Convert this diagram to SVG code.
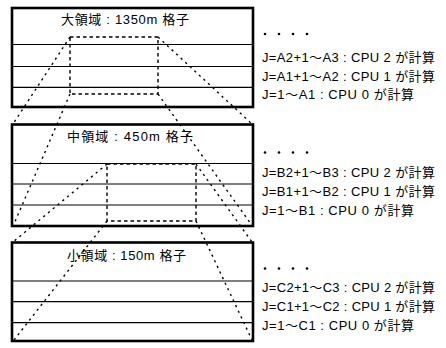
<svg xmlns="http://www.w3.org/2000/svg" width="446" height="348" viewBox="0 0 446 348">
<style>
.frame{fill:none;stroke:#000;stroke-width:2.6}
.row{stroke:#000;stroke-width:1.2}
.rect{fill:none;stroke:#000;stroke-width:1.4;stroke-dasharray:3.5 3}
.conn{fill:none;stroke:#000;stroke-width:1.4;stroke-dasharray:2.2 4}
.t{font-family:"Liberation Sans","Noto Sans CJK JP",sans-serif;font-size:13px;fill:#000}
.dot{fill:#000}
</style>
<rect width="446" height="348" fill="#fff"/>
<g id="large">
  <rect class="frame" x="12" y="8" width="241" height="99"/>
  <line class="row" x1="12" y1="44.5" x2="253" y2="44.5"/>
  <line class="row" x1="12" y1="66.5" x2="253" y2="66.5"/>
  <line class="row" x1="12" y1="87.3" x2="253" y2="87.3"/>
  <rect class="rect" x="70" y="37" width="88" height="57"/>
  <text class="t" x="61" y="24" textLength="128" lengthAdjust="spacing">大領域 : 1350m 格子</text>
  <circle class="dot" cx="265" cy="34" r="1.3"/><circle class="dot" cx="279" cy="34" r="1.3"/><circle class="dot" cx="293" cy="34" r="1.3"/><circle class="dot" cx="307" cy="34" r="1.3"/>
  <text class="t" x="262" y="61.5" textLength="173" lengthAdjust="spacing">J=A2+1〜A3 : CPU 2 が計算</text>
  <text class="t" x="262" y="80.5" textLength="173" lengthAdjust="spacing">J=A1+1〜A2 : CPU 1 が計算</text>
  <text class="t" x="262" y="99" textLength="152" lengthAdjust="spacing">J=1〜A1 : CPU 0 が計算</text>
</g>
<g id="medium">
  <rect class="frame" x="12" y="124.5" width="241" height="101.5"/>
  <line class="row" x1="12" y1="163.5" x2="253" y2="163.5"/>
  <line class="row" x1="12" y1="184" x2="253" y2="184"/>
  <line class="row" x1="12" y1="205" x2="253" y2="205"/>
  <rect class="rect" x="107" y="164" width="89" height="57"/>
  <text class="t" x="67" y="141" textLength="126" lengthAdjust="spacing">中領域 : 450m 格子</text>
  <circle class="dot" cx="265" cy="152.5" r="1.3"/><circle class="dot" cx="279" cy="152.5" r="1.3"/><circle class="dot" cx="293" cy="152.5" r="1.3"/><circle class="dot" cx="307" cy="152.5" r="1.3"/>
  <text class="t" x="262" y="177" textLength="173" lengthAdjust="spacing">J=B2+1〜B3 : CPU 2 が計算</text>
  <text class="t" x="262" y="196" textLength="173" lengthAdjust="spacing">J=B1+1〜B2 : CPU 1 が計算</text>
  <text class="t" x="262" y="214.5" textLength="152" lengthAdjust="spacing">J=1〜B1 : CPU 0 が計算</text>
</g>
<g id="small">
  <rect class="frame" x="12" y="242.5" width="241" height="98.5"/>
  <line class="row" x1="12" y1="281" x2="253" y2="281"/>
  <line class="row" x1="12" y1="301.7" x2="253" y2="301.7"/>
  <line class="row" x1="12" y1="322.7" x2="253" y2="322.7"/>
  <text class="t" x="67" y="259.5" textLength="119" lengthAdjust="spacing">小領域 : 150m 格子</text>
  <circle class="dot" cx="265" cy="268.5" r="1.3"/><circle class="dot" cx="279" cy="268.5" r="1.3"/><circle class="dot" cx="293" cy="268.5" r="1.3"/><circle class="dot" cx="307" cy="268.5" r="1.3"/>
  <text class="t" x="262" y="292" textLength="173" lengthAdjust="spacing">J=C2+1〜C3 : CPU 2 が計算</text>
  <text class="t" x="262" y="311" textLength="173" lengthAdjust="spacing">J=C1+1〜C2 : CPU 1 が計算</text>
  <text class="t" x="262" y="329.5" textLength="152" lengthAdjust="spacing">J=1〜C1 : CPU 0 が計算</text>
</g>
<g id="connectors">
  <line class="conn" x1="70" y1="37" x2="13" y2="124"/>
  <line class="conn" x1="70" y1="94" x2="14" y2="224"/>
  <line class="conn" x1="158" y1="37" x2="252" y2="124"/>
  <line class="conn" x1="158" y1="94" x2="251" y2="224"/>
  <line class="conn" x1="107" y1="164" x2="13" y2="242"/>
  <line class="conn" x1="107" y1="221" x2="14" y2="340"/>
  <line class="conn" x1="196" y1="164" x2="252" y2="242"/>
  <line class="conn" x1="196" y1="221" x2="252" y2="340"/>
</g>
</svg>
